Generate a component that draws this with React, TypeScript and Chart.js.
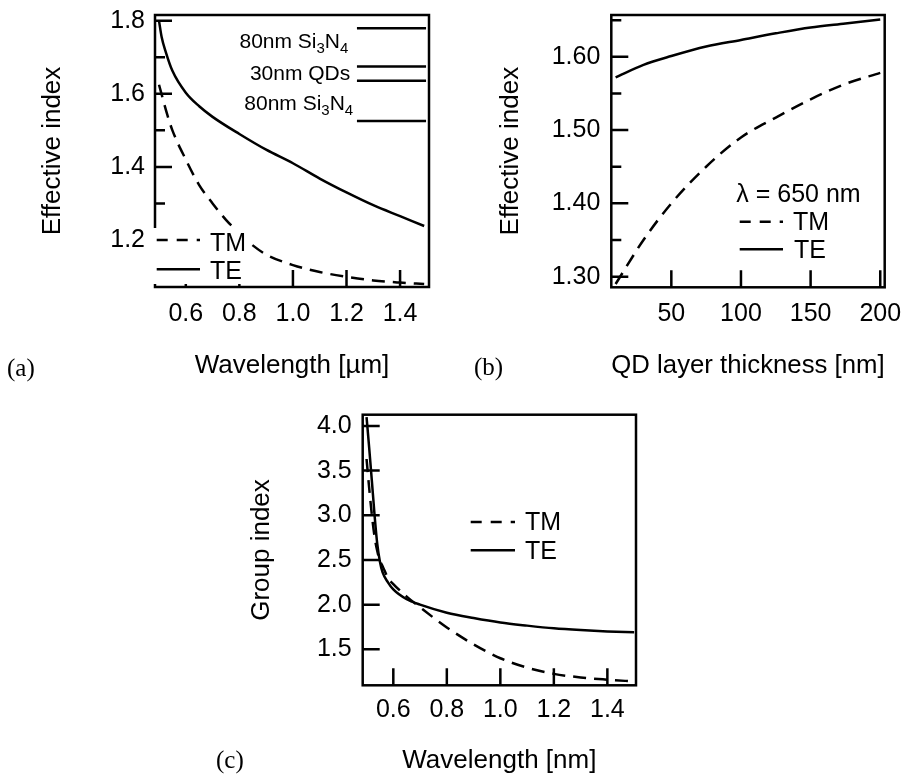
import React, { useEffect, useRef } from "react";
import { Chart, registerables } from "chart.js";
Chart.register(...registerables);

const FONT = "'Liberation Sans', Arial, Helvetica, sans-serif";
const SERIF = "'Liberation Serif', 'Times New Roman', serif";
Chart.defaults.font.family = FONT;
Chart.defaults.color = "#000";

// ---------- Panel (a): effective index vs wavelength ----------
const wlA = [0.5, 0.51, 0.525, 0.55, 0.6, 0.65, 0.7, 0.8, 0.9, 1.0, 1.1, 1.2, 1.3, 1.4, 1.49];
const teA = [1.8, 1.755, 1.715, 1.663, 1.603, 1.566, 1.537, 1.49, 1.447, 1.41, 1.368, 1.33, 1.295, 1.265, 1.238];
const wlA_TM = [0.5, 0.53, 0.55, 0.6, 0.65, 0.7, 0.75, 0.8, 0.85, 0.9, 1.0, 1.1, 1.2, 1.3, 1.4, 1.49];
const tmA = [1.625, 1.545, 1.5, 1.42, 1.35, 1.3, 1.255, 1.218, 1.185, 1.16, 1.131, 1.112, 1.099, 1.089, 1.083, 1.079];
const xTicksA = [0.6, 0.8, 1.0, 1.2, 1.4];
const yTicksA = [1.2, 1.4, 1.6, 1.8];
const yMinorA = [1.3, 1.5, 1.7];
const layerLinesA = [1.78, 1.675, 1.636, 1.526];
const layerLabelsA = [
  { parts: [{ t: "80nm Si" }, { t: "3", sub: true }, { t: "N" }, { t: "4", sub: true }], x: 1.207, y: 1.726 },
  { parts: [{ t: "30nm QDs" }], x: 1.214, y: 1.638 },
  { parts: [{ t: "80nm Si" }, { t: "3", sub: true }, { t: "N" }, { t: "4", sub: true }], x: 1.225, y: 1.556 },
];

// ---------- Panel (b): effective index vs QD thickness ----------
const thickB = [10, 30, 50, 75, 100, 125, 150, 175, 200];
const teB = [1.572, 1.589, 1.601, 1.614, 1.623, 1.632, 1.64, 1.6455, 1.651];
const tmB = [1.29, 1.35, 1.4, 1.45, 1.49, 1.517, 1.542, 1.563, 1.578];
const xTicksB = [50, 100, 150, 200];
const yTicksB = [1.3, 1.4, 1.5, 1.6];
const yMinorB = [1.35, 1.45, 1.55, 1.65];

// ---------- Panel (c): group index vs wavelength ----------
const wlC = [0.5, 0.51, 0.52, 0.53, 0.54, 0.55, 0.56, 0.58, 0.6, 0.65, 0.7, 0.8, 0.9, 1.0, 1.1, 1.2, 1.3, 1.4, 1.5];
const teC = [4.1, 3.75, 3.38, 3.0, 2.68, 2.48, 2.36, 2.25, 2.17, 2.06, 2.0, 1.91, 1.85, 1.8, 1.765, 1.735, 1.715, 1.7, 1.69];
const tmC = [3.63, 3.3, 3.0, 2.76, 2.6, 2.49, 2.43, 2.3, 2.23, 2.09, 1.97, 1.745, 1.555, 1.4, 1.295, 1.225, 1.185, 1.16, 1.14];
const xTicksC = [0.6, 0.8, 1.0, 1.2, 1.4];
const yTicksC = [1.5, 2.0, 2.5, 3.0, 3.5, 4.0];

const W = 906;
const H = 784;
const TM_DASH = [13, 8];
const LEG_DASH = [11, 9];

function pts(xs: number[], ys: number[]) {
  return xs.map((x, i) => ({ x, y: ys[i] }));
}

function drawRich(ctx: CanvasRenderingContext2D, parts: any[], right: number, base: number) {
  const big = `21px ${FONT}`;
  const small = `15px ${FONT}`;
  const ws = parts.map((p) => {
    ctx.font = p.sub ? small : big;
    return ctx.measureText(p.t).width;
  });
  let x = right - ws.reduce((a, b) => a + b, 0);
  parts.forEach((p, i) => {
    ctx.font = p.sub ? small : big;
    ctx.fillText(p.t, x, base + (p.sub ? 5 : 0));
    x += ws[i];
  });
}

function legendItem(ctx: CanvasRenderingContext2D, x1: number, x2: number, y: number, dashed: boolean, text: string, tx: number, base: number) {
  ctx.save();
  ctx.strokeStyle = "#000";
  ctx.lineWidth = 2.5;
  ctx.setLineDash(dashed ? LEG_DASH : []);
  ctx.beginPath();
  ctx.moveTo(x1, y);
  ctx.lineTo(x2, y);
  ctx.stroke();
  ctx.restore();
  ctx.font = `25px ${FONT}`;
  ctx.fillStyle = "#000";
  ctx.textAlign = "left";
  ctx.textBaseline = "alphabetic";
  ctx.fillText(text, tx, base);
}

type Spec = {
  id: string;
  xMin: number; xMax: number; yMin: number; yMax: number;
  xTicks: number[]; yTicks: number[]; yMinor: number[];
  xFmt: (v: number) => string; yFmt: (v: number) => string;
  xTitle: string; yTitle: string;
  pad: { left: number; top: number; right: number; bottom: number };
  yW: number; xH: number; xPad: number; yPad: number;
  te: { x: number; y: number }[]; tm: { x: number; y: number }[];
  extra: (chart: any) => void;
};

function zeroPad(sc: any) {
  sc.paddingTop = 0;
  sc.paddingBottom = 0;
  sc.paddingLeft = 0;
  sc.paddingRight = 0;
}

function build(canvas: HTMLCanvasElement, s: Spec) {
  const plugin = {
    id: "frame_" + s.id,
    afterDatasetsDraw(chart: any) {
      const { ctx, chartArea: a, scales } = chart;
      const xs = scales.x;
      const ys = scales.y;
      ctx.save();
      ctx.strokeStyle = "#000";
      ctx.lineWidth = 2.5;
      ctx.setLineDash([]);
      ctx.strokeRect(a.left, a.top, a.right - a.left, a.bottom - a.top);
      ctx.beginPath();
      s.xTicks.forEach((v) => {
        const p = xs.getPixelForValue(v);
        ctx.moveTo(p, a.bottom);
        ctx.lineTo(p, a.bottom - 17);
      });
      s.yTicks.forEach((v) => {
        const p = ys.getPixelForValue(v);
        ctx.moveTo(a.left, p);
        ctx.lineTo(a.left + 17, p);
      });
      s.yMinor.forEach((v) => {
        const p = ys.getPixelForValue(v);
        ctx.moveTo(a.left, p);
        ctx.lineTo(a.left + 10, p);
      });
      ctx.stroke();
      s.extra(chart);
      ctx.restore();
    },
  };
  return new Chart(canvas, {
    type: "line",
    data: {
      datasets: [
        {
          label: "TE",
          data: s.te,
          borderColor: "#000",
          borderWidth: 2.5,
          pointRadius: 0,
          fill: false,
          cubicInterpolationMode: "monotone",
        },
        {
          label: "TM",
          data: s.tm,
          borderColor: "#000",
          borderWidth: 2.5,
          borderDash: TM_DASH,
          pointRadius: 0,
          fill: false,
          cubicInterpolationMode: "monotone",
        },
      ],
    },
    options: {
      animation: false,
      responsive: false,
      events: [],
      layout: { padding: s.pad },
      plugins: { legend: { display: false }, tooltip: { enabled: false } },
      scales: {
        x: {
          type: "linear",
          min: s.xMin,
          max: s.xMax,
          afterFit: (sc: any) => { sc.height = s.xH; zeroPad(sc); },
          afterBuildTicks: (sc: any) => { sc.ticks = s.xTicks.map((v) => ({ value: v })); },
          grid: { display: false, drawTicks: false },
          border: { display: false },
          ticks: {
            padding: s.xPad,
            autoSkip: false,
            maxRotation: 0,
            color: "#000",
            font: { size: 25, family: FONT },
            callback: (v: any) => s.xFmt(Number(v)),
          },
          title: { display: true, text: s.xTitle, color: "#000", padding: 0, font: { size: 26, family: FONT } },
        },
        y: {
          type: "linear",
          min: s.yMin,
          max: s.yMax,
          afterFit: (sc: any) => { sc.width = s.yW; zeroPad(sc); },
          afterBuildTicks: (sc: any) => { sc.ticks = s.yTicks.map((v) => ({ value: v })); },
          grid: { display: false, drawTicks: false },
          border: { display: false },
          ticks: {
            padding: s.yPad,
            autoSkip: false,
            color: "#000",
            font: { size: 25, family: FONT },
            callback: (v: any) => s.yFmt(Number(v)),
          },
          title: { display: true, text: s.yTitle, color: "#000", padding: 0, font: { size: 26, family: FONT } },
        },
      },
    } as any,
    plugins: [plugin],
  });
}

function panelLetter(ctx: CanvasRenderingContext2D, t: string, x: number, base: number) {
  ctx.font = `25px ${SERIF}`;
  ctx.fillStyle = "#000";
  ctx.textAlign = "left";
  ctx.textBaseline = "alphabetic";
  ctx.fillText(t, x, base);
}

const specA: Spec = {
  id: "a",
  xMin: 0.485, xMax: 1.508, yMin: 1.071, yMax: 1.816,
  xTicks: xTicksA, yTicks: yTicksA, yMinor: yMinorA,
  xFmt: (v) => v.toFixed(1), yFmt: (v) => v.toFixed(1),
  xTitle: "Wavelength [µm]", yTitle: "Effective index",
  pad: { left: 37.4, top: 15, right: 477, bottom: 402.4 },
  yW: 117.6, xH: 94.6, xPad: 12, yPad: 10,
  te: pts(wlA, teA), tm: pts(wlA_TM, tmA),
  extra: (chart: any) => {
    const { ctx, scales } = chart;
    const xs = scales.x, ys = scales.y;
    ctx.strokeStyle = "#000";
    ctx.lineWidth = 2.5;
    ctx.setLineDash([]);
    ctx.beginPath();
    layerLinesA.forEach((v) => {
      const p = ys.getPixelForValue(v);
      ctx.moveTo(xs.getPixelForValue(1.239), p);
      ctx.lineTo(xs.getPixelForValue(1.497), p);
    });
    ctx.stroke();
    ctx.fillStyle = "#000";
    ctx.textBaseline = "alphabetic";
    ctx.textAlign = "left";
    layerLabelsA.forEach((l) => drawRich(ctx, l.parts, xs.getPixelForValue(l.x), ys.getPixelForValue(l.y)));
    ctx.fillStyle = "#fff";
    ctx.fillRect(152, 228, 97, 56);
    legendItem(ctx, 156.7, 200, 240, true, "TM", 210, 250.5);
    legendItem(ctx, 156.7, 200, 269.3, false, "TE", 210, 278.5);
    panelLetter(ctx, "(a)", 7, 375.5);
  },
};

const specB: Spec = {
  id: "b",
  xMin: 6.9, xMax: 203.2, yMin: 1.2855, yMax: 1.657,
  xTicks: xTicksB, yTicks: yTicksB, yMinor: yMinorB,
  xFmt: (v) => String(Math.round(v)), yFmt: (v) => v.toFixed(2),
  xTitle: "QD layer thickness [nm]", yTitle: "Effective index",
  pad: { left: 495.7, top: 15, right: 21.3, bottom: 402.4 },
  yW: 115.6, xH: 94.3, xPad: 12, yPad: 11,
  te: pts(thickB, teB), tm: pts(thickB, tmB),
  extra: (chart: any) => {
    const { ctx } = chart;
    ctx.font = `25px ${FONT}`;
    ctx.fillStyle = "#000";
    ctx.textAlign = "left";
    ctx.textBaseline = "alphabetic";
    ctx.fillText("λ = 650 nm", 736.3, 201.7);
    legendItem(ctx, 739.7, 783, 221.7, true, "TM", 793, 230);
    legendItem(ctx, 739.7, 783, 249.3, false, "TE", 794, 258.3);
    panelLetter(ctx, "(b)", 474, 374.5);
  },
};

const specC: Spec = {
  id: "c",
  xMin: 0.4856, xMax: 1.507, yMin: 1.097, yMax: 4.126,
  xTicks: xTicksC, yTicks: yTicksC, yMinor: [],
  xFmt: (v) => v.toFixed(1), yFmt: (v) => v.toFixed(1),
  xTitle: "Wavelength [nm]", yTitle: "Group index",
  pad: { left: 246.1, top: 414.7, right: 270, bottom: 7.4 },
  yW: 116.6, xH: 91.3, xPad: 10, yPad: 11,
  te: pts(wlC, teC), tm: pts(wlC, tmC),
  extra: (chart: any) => {
    const { ctx } = chart;
    legendItem(ctx, 470.7, 515, 522, true, "TM", 525, 530.3);
    legendItem(ctx, 470.7, 515, 550.3, false, "TE", 525, 558.7);
    panelLetter(ctx, "(c)", 216, 767.5);
  },
};

function Panel({ spec }: { spec: Spec }) {
  const ref = useRef<HTMLCanvasElement>(null);
  useEffect(() => {
    const ch = build(ref.current as HTMLCanvasElement, spec);
    return () => ch.destroy();
  }, [spec]);
  return (
    <canvas
      ref={ref}
      width={W}
      height={H}
      style={{ position: "absolute", left: 0, top: 0, width: W, height: H }}
    />
  );
}

export default function App() {
  return (
    <div style={{ position: "absolute", left: 0, top: 0, width: W, height: H, background: "#fff" }}>
      <Panel spec={specA} />
      <Panel spec={specB} />
      <Panel spec={specC} />
    </div>
  );
}
